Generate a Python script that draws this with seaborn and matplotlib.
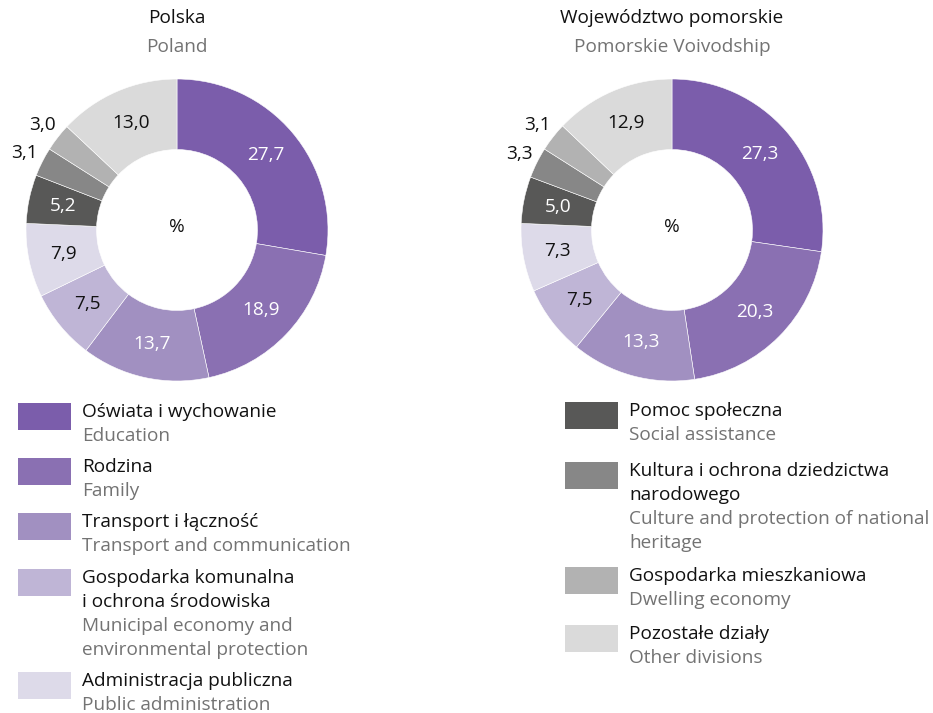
import matplotlib
matplotlib.use("Agg")
import matplotlib.pyplot as plt
from matplotlib.patches import Rectangle
import numpy as np
import seaborn as sns

# Budget expenditure structure by division, %
categories_pl = [
    "Oświata i wychowanie", "Rodzina", "Transport i łączność",
    "Gospodarka komunalna\ni ochrona środowiska", "Administracja publiczna",
    "Pomoc społeczna", "Kultura i ochrona dziedzictwa\nnarodowego",
    "Gospodarka mieszkaniowa", "Pozostałe działy",
]
categories_en = [
    "Education", "Family", "Transport and communication",
    "Municipal economy and\nenvironmental protection", "Public administration",
    "Social assistance", "Culture and protection of national\nheritage",
    "Dwelling economy", "Other divisions",
]
poland = [27.7, 18.9, 13.7, 7.5, 7.9, 5.2, 3.1, 3.0, 13.0]
pomorskie = [27.3, 20.3, 13.3, 7.5, 7.3, 5.0, 3.3, 3.1, 12.9]

colors = ["#7b5dab", "#8a70b2", "#a190c1", "#bfb5d6", "#dddae9",
          "#585857", "#878787", "#b2b2b2", "#dadada"]
label_colors = ["white", "white", "white", "#111111", "#111111",
                "white", "#111111", "#111111", "#111111"]
outside = [False, False, False, False, False, False, True, True, False]

W, H = 933, 713
sns.set_theme(style="white")
plt.rcParams["font.family"] = ["Open Sans", "DejaVu Sans"]
palette = sns.color_palette(colors)

fig = plt.figure(figsize=(W / 100, H / 100), dpi=100)
fig.patch.set_facecolor("white")

BLACK = "#111111"
GREY = "#737373"
FS = 13.7


def fx(x):
    return x / W


def fy(y):
    return 1 - y / H


def donut(cx, cy, r, values, title, subtitle):
    ax = fig.add_axes([fx(cx - r), fy(cy + r), 2 * r / W, 2 * r / H])
    ax.pie(values, colors=palette, startangle=90, counterclock=False,
           radius=1, wedgeprops=dict(width=0.467, edgecolor="white", linewidth=0.4))
    cum = np.cumsum([0] + values[:-1])
    for v, c0, lc, out in zip(values, cum, label_colors, outside):
        ang = np.deg2rad(90 - (c0 + v / 2) / 100 * 360)
        d = 1.13 if out else 0.77
        ax.text(d * np.cos(ang), d * np.sin(ang), f"{v:.1f}".replace(".", ","),
                ha="center", va="center", color=BLACK if out else lc,
                fontsize=FS)
    ax.text(0, 0.02, "%", ha="center", va="center", color=BLACK, fontsize=FS)
    ax.set_xlim(-1, 1)
    ax.set_ylim(-1, 1)
    ax.set_aspect("equal")
    ax.axis("off")
    fig.text(fx(cx), fy(18), title, ha="center", va="center", color=BLACK, fontsize=FS)
    fig.text(fx(cx), fy(47), subtitle, ha="center", va="center", color=GREY, fontsize=FS)


donut(177, 230, 151, poland, "Polska", "Poland")
donut(672, 230, 151, pomorskie, "Województwo pomorskie", "Pomorskie Voivodship")

# Legend: swatch top y per entry
legend_left = [(0, 403), (1, 458), (2, 513), (3, 569), (4, 672)]
legend_right = [(5, 402), (6, 462), (7, 567), (8, 625)]
LINE = 24


def legend_entry(idx, sx, top, tx):
    fig.patches.append(Rectangle((fx(sx), fy(top + 27)), 53 / W, 27 / H,
                                 transform=fig.transFigure, facecolor=colors[idx],
                                 edgecolor="none"))
    y = top + 9
    for line in categories_pl[idx].split("\n"):
        fig.text(fx(tx), fy(y), line, ha="left", va="center", color=BLACK, fontsize=FS)
        y += LINE
    for line in categories_en[idx].split("\n"):
        fig.text(fx(tx), fy(y), line, ha="left", va="center", color=GREY, fontsize=FS)
        y += LINE


for idx, top in legend_left:
    legend_entry(idx, 18, top, 82)
for idx, top in legend_right:
    legend_entry(idx, 565, top, 629)

fig.savefig("out.png", dpi=100, facecolor="white")
